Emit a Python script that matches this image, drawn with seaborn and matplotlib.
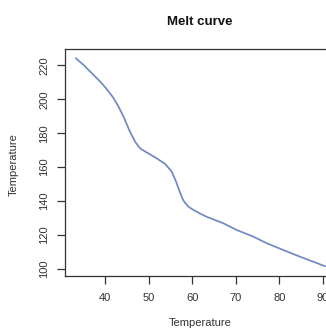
import matplotlib
matplotlib.use("Agg")
import matplotlib.pyplot as plt
import seaborn as sns
import pandas as pd

# Data
temperature = [33.3, 35.0, 36.6, 38.9, 40.4, 41.8, 43.1, 44.4, 45.7, 46.9,
               47.6, 48.3, 49.9, 51.8, 53.8, 55.3, 56.3, 56.8, 57.3, 57.8,
               58.3, 59.2, 60.3, 61.8, 63.3, 67.1, 70.2, 74.0, 77.1, 80.9,
               84.7, 87.8, 90.5]
signal = [224.2, 220.4, 216.3, 210.4, 206.0, 201.3, 195.7, 188.9, 181.0, 175.1,
          172.5, 170.6, 168.2, 165.3, 161.9, 157.4, 151.5, 147.9, 144.6, 141.3,
          139.2, 136.6, 134.8, 132.7, 130.8, 127.0, 123.0, 119.1, 115.2, 111.2,
          107.3, 104.3, 101.6]
x_ticks = [40, 50, 60, 70, 80, 90]
y_ticks = [100, 120, 140, 160, 180, 200, 220]
title = "Melt curve"
x_label = "Temperature"
y_label = "Temperature"

sns.set_style("ticks")
plt.rcParams["font.family"] = ["Liberation Sans", "DejaVu Sans"]

df = pd.DataFrame({"x": temperature, "y": signal})

W, H = 326, 329
fig = plt.figure(figsize=(W / 100, H / 100), dpi=100)
left, right, top, bottom = 65, 335, 49, 275.5
ax = fig.add_axes([left / W, 1 - bottom / H, (right - left) / W, (bottom - top) / H])

sns.lineplot(data=df, x="x", y="y", ax=ax, color="#7088c4", linewidth=1.25,
             estimator=None, sort=False)
ax.lines[0].set_solid_joinstyle("round")

ax.set_xlim(30.83, 92.75)
ax.set_ylim(96.2, 229.6)
ax.set_xticks(x_ticks)
ax.set_yticks(y_ticks)
ax.set_xticklabels([str(v) for v in x_ticks], fontsize=8, color="#333333")
ax.set_yticklabels([str(v) for v in y_ticks], fontsize=8, color="#333333",
                   rotation=90, va="center")
ax.tick_params(axis="both", direction="out", length=5.5, width=0.9, color="#333333")
ax.tick_params(axis="x", pad=7)
ax.tick_params(axis="y", pad=6)
for s in ax.spines.values():
    s.set_visible(True)
    s.set_color("#333333")
    s.set_linewidth(0.9)

ax.set_xlabel("")
ax.set_ylabel("")
fig.text((left + right) / 2 / W, 1 - 323 / H, x_label, ha="center", va="center",
         fontsize=8, color="#333333")
fig.text(14 / W, 1 - 165 / H, y_label, ha="center", va="center", rotation=90,
         fontsize=8, color="#333333")
fig.text((left + right) / 2 / W, 1 - 22 / H, title, ha="center", va="center",
         fontsize=9.5, fontweight="bold", color="#111111")

fig.savefig("out.png", dpi=100)
